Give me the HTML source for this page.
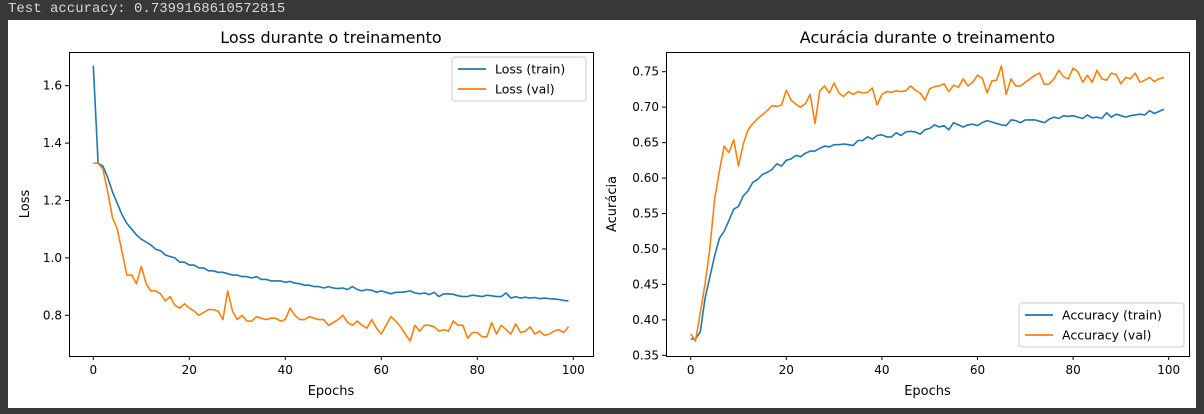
<!DOCTYPE html>
<html><head><meta charset="utf-8"><style>
html,body{margin:0;padding:0;background:#383838;width:1204px;height:414px;overflow:hidden}
#top{position:absolute;left:8px;top:1px;font:14px "Liberation Mono",monospace;color:#d8d8d8;white-space:pre}
#fig{position:absolute;left:8px;top:20px;width:1188px;height:388px;background:#fff}
svg{position:absolute;left:0;top:0}
text{font-family:"DejaVu Sans","Liberation Sans",sans-serif}
</style></head><body>
<div id="top">Test accuracy: 0.7399168610572815</div>
<div id="fig"></div>
<svg id="chart" width="1204" height="414"></svg>
<script>
const epochs = Array.from({length:100},(_,i)=>i);
const lossTrain = [1.67,1.33,1.32,1.28,1.23,1.19,1.15,1.12,1.10,1.08,1.065,1.055,1.045,1.03,1.025,1.01,1.005,1.0,0.985,0.985,0.975,0.975,0.965,0.965,0.955,0.955,0.95,0.95,0.945,0.94,0.94,0.935,0.935,0.93,0.935,0.925,0.925,0.92,0.92,0.92,0.915,0.918,0.912,0.91,0.905,0.905,0.9,0.9,0.895,0.9,0.895,0.893,0.895,0.89,0.9,0.89,0.885,0.89,0.887,0.88,0.885,0.88,0.875,0.88,0.88,0.882,0.885,0.878,0.875,0.878,0.872,0.88,0.865,0.875,0.875,0.873,0.868,0.865,0.866,0.87,0.868,0.865,0.87,0.868,0.865,0.865,0.878,0.86,0.865,0.86,0.863,0.86,0.862,0.858,0.86,0.858,0.857,0.855,0.852,0.85];
const lossVal = [1.33,1.33,1.31,1.23,1.14,1.10,1.02,0.94,0.94,0.91,0.97,0.91,0.885,0.885,0.875,0.85,0.865,0.835,0.825,0.84,0.825,0.815,0.80,0.81,0.82,0.82,0.815,0.785,0.885,0.815,0.785,0.80,0.78,0.78,0.795,0.79,0.785,0.79,0.79,0.78,0.785,0.825,0.80,0.785,0.785,0.795,0.79,0.785,0.785,0.765,0.775,0.785,0.80,0.775,0.765,0.78,0.765,0.755,0.785,0.755,0.735,0.765,0.795,0.78,0.76,0.735,0.71,0.765,0.745,0.765,0.765,0.76,0.745,0.75,0.745,0.78,0.765,0.765,0.72,0.74,0.74,0.725,0.725,0.775,0.735,0.765,0.75,0.735,0.77,0.74,0.745,0.76,0.735,0.745,0.73,0.735,0.745,0.75,0.74,0.76];
const accTrain = [.373,.373,.383,.43,.46,.49,.515,.525,.54,.556,.56,.575,.582,.594,.598,.605,.608,.612,.62,.617,.625,.627,.632,.63,.635,.638,.638,.642,.645,.644,.647,.647,.648,.647,.646,.653,.653,.658,.655,.66,.661,.658,.658,.664,.66,.665,.666,.665,.662,.668,.67,.675,.672,.674,.668,.678,.675,.672,.675,.676,.674,.678,.681,.679,.677,.675,.674,.682,.681,.678,.682,.682,.682,.68,.678,.683,.686,.684,.688,.687,.688,.686,.684,.689,.685,.686,.684,.692,.686,.69,.688,.686,.688,.689,.69,.689,.695,.691,.694,.697];
const accVal = [.38,.37,.41,.45,.5,.57,.61,.645,.636,.654,.617,.648,.668,.677,.684,.689,.695,.702,.701,.703,.724,.71,.704,.70,.705,.718,.677,.723,.73,.72,.734,.72,.715,.722,.718,.722,.72,.721,.727,.703,.718,.722,.721,.723,.722,.723,.73,.724,.72,.71,.726,.729,.73,.733,.722,.731,.728,.74,.73,.735,.745,.741,.72,.737,.738,.758,.718,.74,.73,.73,.735,.74,.745,.748,.732,.733,.74,.752,.743,.74,.755,.75,.735,.745,.735,.752,.74,.738,.748,.746,.733,.742,.74,.748,.735,.738,.742,.736,.74,.742];
const xTicks = [0,20,40,60,80,100];
const lossTicks = [0.8,1.0,1.2,1.4,1.6];
const accTicks = [0.35,0.40,0.45,0.50,0.55,0.60,0.65,0.70,0.75];

const NS='http://www.w3.org/2000/svg';
const svg=document.getElementById('chart');
function mk(tag,attrs,parent){const e=document.createElementNS(NS,tag);for(const k in attrs)e.setAttribute(k,attrs[k]);(parent||svg).appendChild(e);return e;}
const BLUE='#1f77b4',ORANGE='#ff7f0e';

function panel(cfg){
  const g=mk('g',{});
  
  
  const L=cfg.L,R=cfg.R,T=52,B=356;
  const xs=v=>cfg.x0+(v)*cfg.xk;
  const ys=v=>cfg.y0-(v-cfg.yv0)*cfg.yk;
  // ticks
  xTicks.forEach(t=>{
    const x=xs(t);
    const l=mk('line',{x1:x,x2:x,y1:B,y2:B+4,stroke:'#000','stroke-width':1},g);
    
    
    const tx=mk('text',{x:x,y:B+18,'font-size':12,'text-anchor':'middle'},g);
    tx.textContent=t;
    
    
  });
  cfg.yTicks.forEach(t=>{
    const y=ys(t);
    const l=mk('line',{x1:L-4,x2:L,y1:y,y2:y,stroke:'#000','stroke-width':1},g);
    
    
    const tx=mk('text',{x:L-7,y:y+4,'font-size':12,'text-anchor':'end'},g);
    tx.textContent=t.toFixed(cfg.dec);
    
    
  });
  [[cfg.s1,BLUE,'train-line'],[cfg.s2,ORANGE,'val-line']].forEach(([s,c,n])=>{
    const p=mk('polyline',{points:epochs.map((e,i)=>xs(e).toFixed(1)+','+ys(s[i]).toFixed(1)).join(' '),fill:'none',stroke:c,'stroke-width':1.6,'stroke-linejoin':'round'},g);
    
    
  });
  const fr=mk('rect',{x:L+.5,y:T+.5,width:R-L,height:B-T,fill:'none',stroke:'#000','stroke-width':1},g);
  
  
  const ti=mk('text',{x:(L+R)/2,y:43,'font-size':16,'text-anchor':'middle'},g);
  ti.textContent=cfg.title;
  
  
  const xl=mk('text',{x:(L+R)/2,y:395,'font-size':13,'text-anchor':'middle'},g);
  xl.textContent='Epochs';
  
  
  const yl=mk('text',{x:0,y:0,'font-size':13,'text-anchor':'middle',transform:`translate(${cfg.ylx},${(T+B)/2}) rotate(-90)`},g);
  yl.textContent=cfg.ylabel;
  
  
  // legend
  const lg=mk('g',{},g);
  
  
  mk('rect',{x:cfg.lx,y:cfg.ly,width:cfg.lw,height:44,rx:3,fill:'#fff',stroke:'#ccc','stroke-width':1},lg);
  cfg.labels.forEach((lab,i)=>{
    const y=cfg.ly+12+i*20;
    const e=mk('g',{},lg);
    
    
    mk('line',{x1:cfg.lx+6,x2:cfg.lx+34,y1:y,y2:y,stroke:i?ORANGE:BLUE,'stroke-width':1.8},e);
    const t=mk('text',{x:cfg.lx+43,y:y+4.5,'font-size':12.5},e);
    t.textContent=lab;
  });
}
panel({name:'loss-chart',L:69,R:593,x0:93.3,xk:4.8,y0:315.3,yv0:0.8,yk:287,yTicks:lossTicks,dec:1,s1:lossTrain,s2:lossVal,title:'Loss durante o treinamento',ylabel:'Loss',ylx:29,lx:452,ly:57,lw:134,labels:['Loss (train)','Loss (val)']});
panel({name:'accuracy-chart',L:666,R:1189,x0:690.7,xk:4.78,y0:355.3,yv0:0.35,yk:709,yTicks:accTicks,dec:2,s1:accTrain,s2:accVal,title:'Acurácia durante o treinamento',ylabel:'Acurácia',ylx:616,lx:1019,ly:303,lw:165,labels:['Accuracy (train)','Accuracy (val)']});
</script>
</body></html>
